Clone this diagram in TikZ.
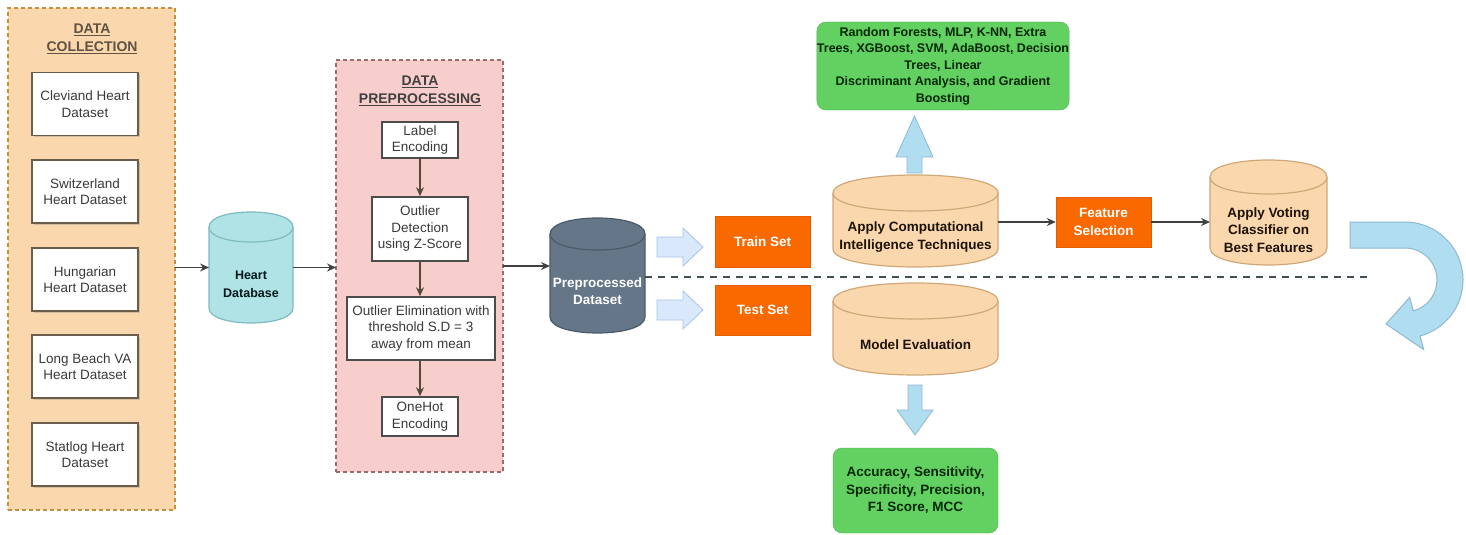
\documentclass[tikz,border=0pt]{standalone}
\usepackage{fontspec}
\setmainfont{Liberation Sans}
\usetikzlibrary{arrows.meta,shadows}
\definecolor{peach}{HTML}{FAD7AC}
\definecolor{peachdk}{HTML}{C4903F}
\definecolor{pinkf}{HTML}{F8CECC}
\definecolor{pinkdk}{HTML}{9A6D6D}
\definecolor{boxbr}{HTML}{6B5C4C}
\definecolor{cyanf}{HTML}{B0E3E6}
\definecolor{cyandk}{HTML}{7DBBC0}
\definecolor{slate}{HTML}{647687}
\definecolor{slatedk}{HTML}{4A5B6B}
\definecolor{orng}{HTML}{FA6800}
\definecolor{cylbr}{HTML}{CFA877}
\definecolor{grn}{HTML}{62D162}
\definecolor{grndk}{HTML}{4FAE4F}
\definecolor{lblue}{HTML}{DAE8FC}
\definecolor{lbluedk}{HTML}{A8C4E6}
\definecolor{ublue}{HTML}{B1DDF0}
\definecolor{ubluedk}{HTML}{8FB8CF}
\definecolor{sep}{HTML}{3F4F55}
\definecolor{txt}{HTML}{3A3A3A}
\newcommand\drawcyl[6]{%
  \path[#1] (#2,#3+#6) -- (#2,#3+#5-#6) .. controls (#2,#3+#5+#6/3) and (#2+#4,#3+#5+#6/3) .. (#2+#4,#3+#5-#6) -- (#2+#4,#3+#6) .. controls (#2+#4,#3-#6/3) and (#2,#3-#6/3) .. cycle;
  \path[#1,fill=none] (#2,#3+#6) .. controls (#2,#3+7*#6/3) and (#2+#4,#3+7*#6/3) .. (#2+#4,#3+#6);
}
\begin{document}
\begin{tikzpicture}[x=1pt,y=-1pt,
  t13/.style={font=\fontsize{13.5}{16.5}\selectfont,align=center},
  b13/.style={font=\bfseries\fontsize{13.5}{17.5}\selectfont,align=center},
  ttl/.style={font=\bfseries\fontsize{14}{18}\selectfont,align=center,text=boxbr!90!black},
  wbox/.style={draw=boxbr,line width=1.8pt,fill=white,inner sep=0pt,minimum width=106pt,minimum height=63pt,t13,text=txt,
    drop shadow={shadow xshift=1.5pt,shadow yshift=-1.5pt,opacity=0.3}},
  pbox/.style={draw=black!70,line width=1.5pt,fill=white,inner sep=0pt,t13,text=txt},
  obox/.style={fill=orng,draw=orng!90!black,inner sep=0pt,minimum width=95pt,b13,text=white},
  gbox/.style={fill=grn,draw=grndk,rounded corners=9pt,inner sep=0pt,text=black!85!green},
  ghost/.style={inner sep=0pt,outer sep=0pt},
  conn/.style={draw=black!75,line width=1.2pt,-{Stealth[length=9pt,width=8pt]}},
  conn2/.style={draw=boxbr!80!black,line width=1.6pt,-{Stealth[length=9pt,width=8pt]}},
  barrow/.style={fill=lblue,draw=lbluedk,line width=0.8pt},
  carrow/.style={fill=ublue,draw=ubluedk,line width=0.8pt},
  pcyl/.style={fill=peach,draw=cylbr,line width=1.2pt}
]
\useasboundingbox (0,0) rectangle (1466,535);

% ---------- Data collection ----------
\node[ghost,draw=peachdk,fill=peach,dashed,dash pattern=on 4pt off 3pt,line width=1.6pt,minimum width=167pt,minimum height=502pt] (dc) at (91.5,259) {};
\node[ttl] (dct) at (92,39) {\underline{DATA}\\\underline{COLLECTION}};
\node[wbox] (c1) at (85,104) {Cleviand Heart\\Dataset};
\node[wbox] (c2) at (85,191.5) {Switzerland\\Heart Dataset};
\node[wbox] (c3) at (85,279.5) {Hungarian\\Heart Dataset};
\node[wbox] (c4) at (85,366.5) {Long Beach VA\\Heart Dataset};
\node[wbox] (c5) at (85,454.5) {Statlog Heart\\Dataset};

% ---------- Heart database ----------
\drawcyl{fill=cyanf,draw=cyandk,line width=1.2pt}{209}{212}{84}{111}{15}
\node[ghost,minimum width=84pt,minimum height=111pt] (hdb) at (251,267.5) {};
\node[font=\bfseries\fontsize{12.5}{18}\selectfont,align=center,text=black!80!teal] (hdbt) at (251,284) {Heart\\Database};
\draw[conn] (dc.east |- hdb.west) -- (hdb.west);

% ---------- Data preprocessing ----------
\node[ghost,draw=pinkdk,fill=pinkf,dashed,dash pattern=on 4pt off 3pt,line width=1.6pt,minimum width=167pt,minimum height=412pt] (pp) at (419.5,266) {};
\draw[conn] (hdb.east) -- (hdb.east -| pp.west);
\node[ttl,text=black!75] (ppt) at (420,91) {\underline{DATA}\\\underline{PREPROCESSING}};
\node[pbox,minimum width=76pt,minimum height=36pt] (p1) at (420,140) {Label\\Encoding};
\node[pbox,minimum width=96pt,minimum height=64pt] (p2) at (420,229) {Outlier\\Detection\\using Z-Score};
\node[pbox,minimum width=148pt,minimum height=63pt] (p3) at (421,328.5) {Outlier Elimination with\\threshold S.D = 3\\away from mean};
\node[pbox,minimum width=76pt,minimum height=39pt] (p4) at (420,416.5) {OneHot\\Encoding};
\draw[conn2] (p1) -- (p2);
\draw[conn2] (p2) -- (p3.north -| p2.south);
\draw[conn2] (p3.south -| p4.north) -- (p4);

% ---------- Preprocessed dataset ----------
\drawcyl{fill=slate,draw=slatedk,line width=1.2pt}{550}{218}{95}{115}{16}
\node[ghost,minimum width=95pt,minimum height=115pt] (pd) at (597.5,275.5) {};
\node[b13,text=white] (pdt) at (597.5,291) {Preprocessed\\Dataset};
\draw[conn] (pp.east) -- (pp.east -| pd.west);

% ---------- separator ----------
\coordinate (sepL) at (645,277);
\coordinate (sepR) at (1370,277);
\draw[sep,line width=2.8pt,dash pattern=on 7pt off 6pt] (sepL) -- (sepR);

% ---------- block arrows to train / test ----------
\draw[barrow] (657,237) -- (683,237) -- (683,228) -- (703,247) -- (683,266) -- (683,257) -- (657,257) -- cycle;
\draw[barrow] (657,300) -- (683,300) -- (683,291) -- (703,310) -- (683,329) -- (683,320) -- (657,320) -- cycle;
\node[obox,minimum height=51pt] (train) at (762.5,241.5) {Train Set};
\node[obox,minimum height=50pt] (test) at (762.5,310) {Test Set};

% ---------- Apply computational intelligence ----------
\drawcyl{pcyl}{833}{175}{165}{92}{18}
\node[ghost,minimum width=165pt,minimum height=92pt] (ac) at (915.5,221) {};
\node[b13,text=black!85!brown] (act) at (915.5,237) {Apply Computational\\Intelligence Techniques};

% ---------- Model evaluation ----------
\drawcyl{pcyl}{833}{283}{165}{92}{18}
\node[ghost,minimum width=165pt,minimum height=92pt] (me) at (915.5,329) {};
\node[b13,text=black!85!brown] (met) at (915.5,345) {Model Evaluation};

% ---------- algorithms (top) ----------
\node[gbox,minimum width=250pt,minimum height=88pt,font=\bfseries\fontsize{12.5}{16.5}\selectfont,align=center] (alg) at (943,66)
  {Random Forests, MLP, K-NN, Extra\\Trees, XGBoost, SVM, AdaBoost, Decision\\Trees, Linear\\Discriminant Analysis, and Gradient\\Boosting};
\draw[carrow] (907,173) -- (907,157) -- (896,157) -- (914.5,116) -- (933,157) -- (922,157) -- (922,173) -- cycle;

% ---------- metrics (bottom) ----------
\draw[carrow] (908,385) -- (922,385) -- (922,410) -- (933,410) -- (915,435) -- (897,410) -- (908,410) -- cycle;
\node[gbox,minimum width=165pt,minimum height=85pt,b13,text=black!85!green] (met2) at (915.5,490.5)
  {Accuracy, Sensitivity,\\Specificity, Precision,\\F1 Score, MCC};

% ---------- Feature selection & voting ----------
\node[obox,minimum height=50pt] (fs) at (1103.5,222) {Feature\\Selection};
\draw[conn] (ac.east |- fs.west) -- (fs.west);
\drawcyl{pcyl}{1210}{160}{117}{105}{17}
\node[ghost,minimum width=117pt,minimum height=105pt] (vc) at (1268.5,222) {};
\node[b13,text=black!85!brown] (vct) at (1268.5,230) {Apply Voting\\Classifier on\\Best Features};
\draw[conn] (fs.east) -- (fs.east -| vc.west);

% ---------- U-turn arrow ----------
\draw[carrow,line width=1pt] (1350,222) -- (1405,222)
  .. controls (1437.03,222) and (1463,247.97) .. (1463,280)
  .. controls (1463,306.26) and (1445.37,329.22) .. (1420.01,336.02)
  -- (1423.63,349.55) -- (1386,324) -- (1409.66,297.39) -- (1413.28,310.91)
  .. controls (1427.28,307.16) and (1437,294.49) .. (1437,280)
  .. controls (1437,262.33) and (1422.67,248) .. (1405,248)
  -- (1350,248) -- cycle;
\end{tikzpicture}
\end{document}
